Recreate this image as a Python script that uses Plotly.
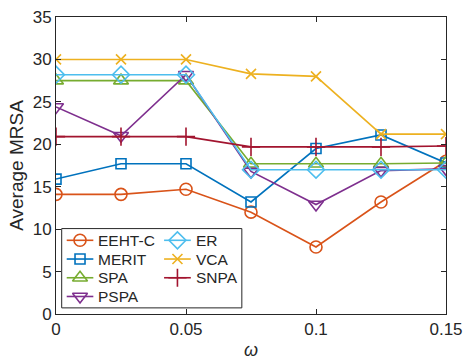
import plotly.graph_objects as go

omega = [0, 0.025, 0.05, 0.075, 0.1, 0.125, 0.15]
eeht_c = [14.1, 14.1, 14.7, 12.0, 7.9, 13.2, 18.0]
merit = [15.9, 17.7, 17.7, 13.2, 19.5, 21.1, 17.8]
spa = [27.5, 27.5, 27.5, 17.7, 17.7, 17.7, 17.8]
pspa = [24.4, 21.0, 28.2, 16.8, 12.9, 16.9, 17.1]
er = [28.2, 28.2, 28.2, 17.0, 17.0, 17.0, 17.0]
vca = [30.0, 30.0, 30.0, 28.3, 28.0, 21.2, 21.2]
snpa = [20.9, 20.9, 20.9, 19.7, 19.7, 19.7, 19.8]

x_ticks = [0, 0.05, 0.1, 0.15]
y_ticks = [0, 5, 10, 15, 20, 25, 30, 35]

# name, values, colour, symbol, size, legend column, legend row
series = [
    ("EEHT-C", eeht_c, "#D95319", "circle-open", 12, 0, 0),
    ("MERIT", merit, "#0072BD", "square-open", 10, 0, 1),
    ("SPA", spa, "#77AC30", "triangle-up-open", 13, 0, 2),
    ("PSPA", pspa, "#7E2F8E", "triangle-down-open", 13, 0, 3),
    ("ER", er, "#4DBEEE", "diamond-open", 13, 1, 0),
    ("VCA", vca, "#EDB120", "x-thin-open", 10, 1, 1),
    ("SNPA", snpa, "#A2142F", "cross-thin-open", 13, 1, 2),
]

INK = "#262626"
LW = 1.6

fig = go.Figure()
for name, y, color, sym, size, col, row in series:
    fig.add_trace(go.Scatter(
        x=omega, y=y, name=name, mode="lines+markers", showlegend=False,
        line=dict(color=color, width=LW),
        marker=dict(symbol=sym, size=size, color=color,
                    line=dict(color=color, width=LW)),
    ))

# ---- custom legend drawn on an overlay in page-pixel units ----
PL, PR, PT, PB = 56.0, 445.7, 17.0, 313.6
box = dict(x0=61.7, x1=241.7, y0=228.3, y1=307.5)
col_x = [(66.7, 93.3, 96.7), (164.0, 190.7, 195.0)]  # line start, line end, text x
row_y = [240.0, 258.7, 277.4, 296.1]

fig.add_trace(go.Scatter(
    x=[box["x0"], box["x1"], box["x1"], box["x0"], box["x0"]],
    y=[box["y0"], box["y0"], box["y1"], box["y1"], box["y0"]],
    mode="lines", fill="toself", fillcolor="white",
    line=dict(color=INK, width=1), xaxis="x2", yaxis="y2",
    showlegend=False, hoverinfo="skip",
))
for name, y, color, sym, size, col, row in series:
    x0, x1, tx = col_x[col]
    yy = row_y[row]
    fig.add_trace(go.Scatter(
        x=[x0, x1], y=[yy, yy], mode="lines", line=dict(color=color, width=LW),
        xaxis="x2", yaxis="y2", showlegend=False, hoverinfo="skip",
    ))
    fig.add_trace(go.Scatter(
        x=[(x0 + x1) / 2], y=[yy], mode="markers",
        marker=dict(symbol=sym, size=size, color=color,
                    line=dict(color=color, width=LW)),
        xaxis="x2", yaxis="y2", showlegend=False, hoverinfo="skip",
    ))
    fig.add_annotation(
        x=tx, y=yy, xref="x2", yref="y2", text=name, showarrow=False,
        xanchor="left", yanchor="middle", xshift=-1,
        font=dict(size=15.5, color=INK),
    )

axis_common = dict(
    showgrid=False, zeroline=False, showline=True, mirror="ticks",
    linecolor=INK, linewidth=1, ticks="inside", ticklen=5,
    tickcolor=INK, tickfont=dict(size=17, color=INK), automargin=False,
)

fig.update_layout(
    width=463, height=360,
    margin=dict(l=PL, r=463 - PR, t=PT, b=360 - PB, autoexpand=False),
    paper_bgcolor="white", plot_bgcolor="white",
    font=dict(family="Liberation Sans, Arial, sans-serif", color=INK),
    showlegend=False,
    xaxis=dict(range=[0, 0.15], tickvals=x_ticks,
               ticktext=[str(v) for v in x_ticks],
               title=dict(text="<i>ω</i>", font=dict(size=18), standoff=6),
               **axis_common),
    yaxis=dict(range=[0, 35], tickvals=y_ticks,
               title=dict(text="Average MRSA", font=dict(size=19), standoff=4),
               **axis_common),
    xaxis2=dict(overlaying="x", range=[PL, PR], visible=False,
                fixedrange=True),
    yaxis2=dict(overlaying="y", range=[PB, PT], visible=False,
                fixedrange=True),
)

fig.write_html("out.html")
